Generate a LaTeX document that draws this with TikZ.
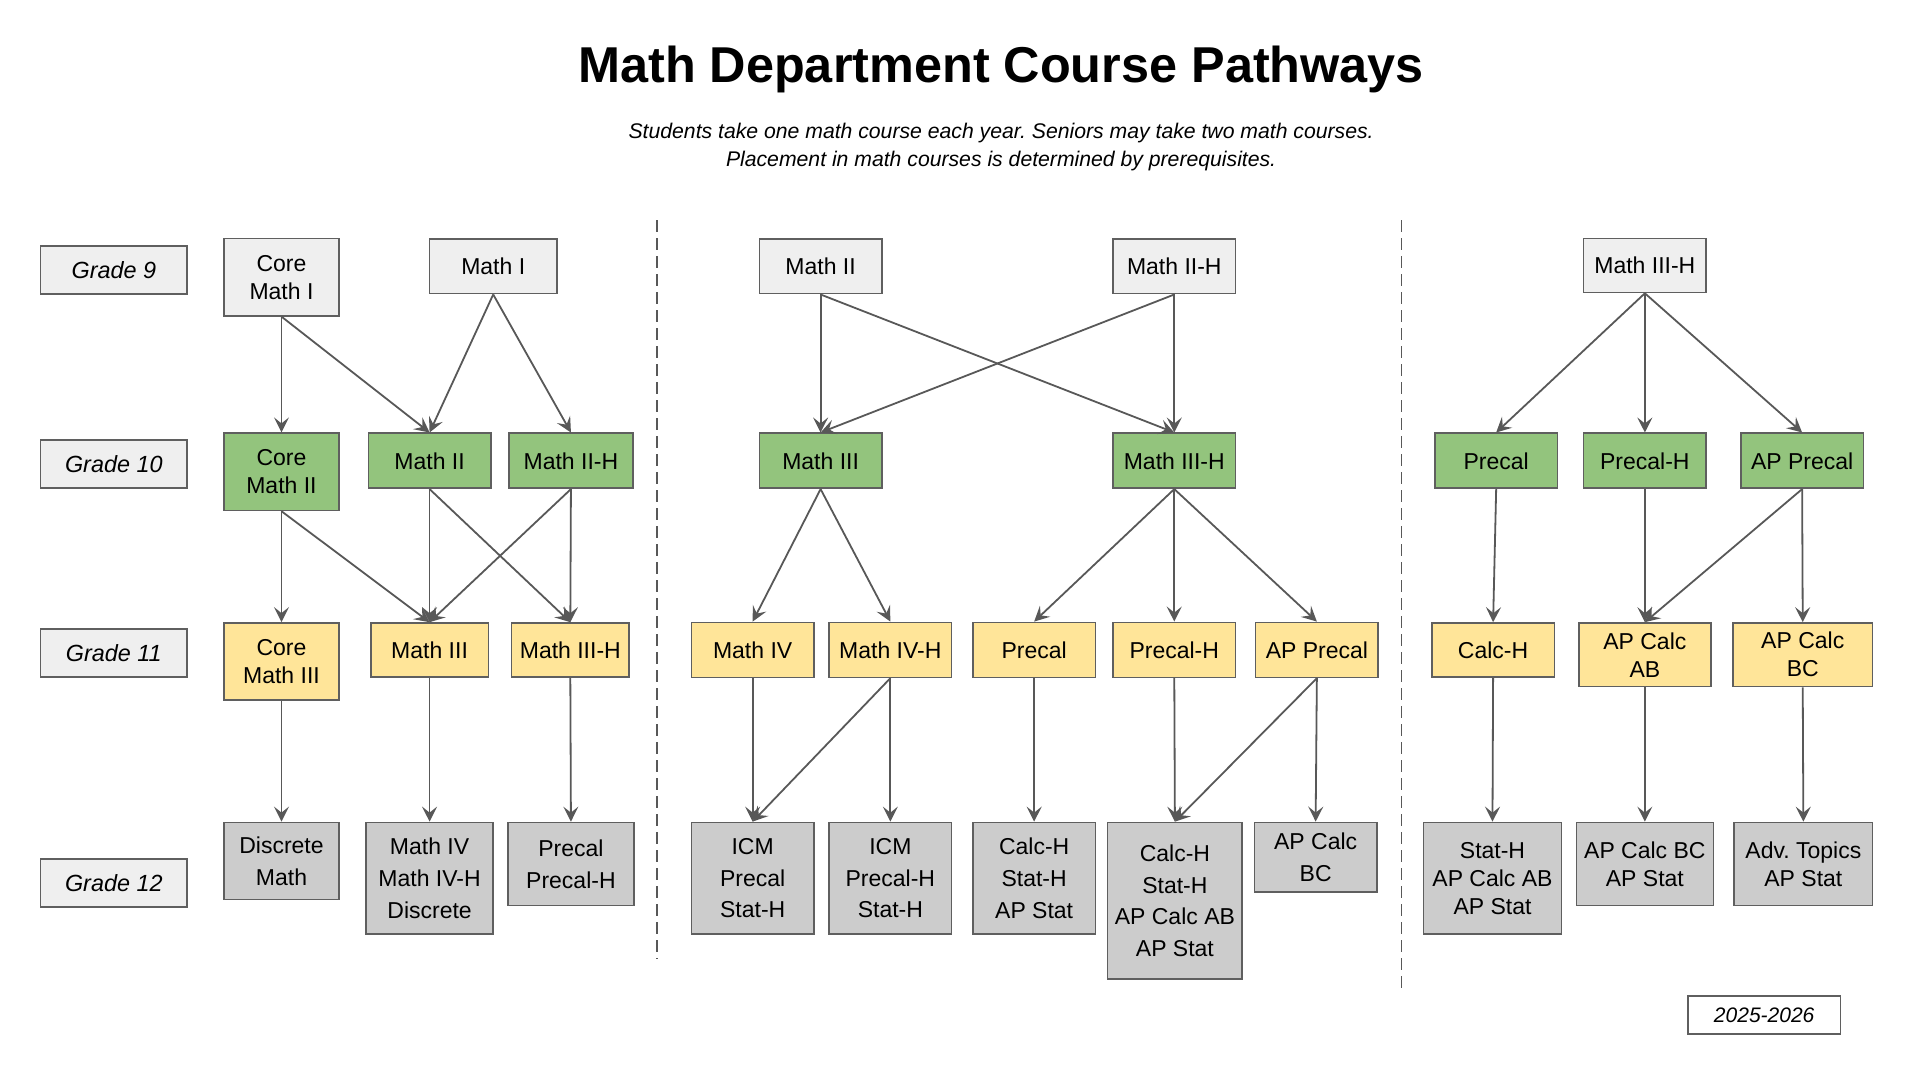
\documentclass[tikz,border=0pt]{standalone}
\usepackage{fontspec}
\setmainfont{Liberation Sans}
\frenchspacing
\usetikzlibrary{arrows.meta,positioning}
\definecolor{boxline}{RGB}{95,95,95}
\definecolor{linkgray}{RGB}{88,88,88}
\definecolor{palegray}{RGB}{239,239,239}
\definecolor{leafgreen}{RGB}{147,196,125}
\definecolor{paleyellow}{RGB}{255,229,153}
\definecolor{midgray}{RGB}{204,204,204}
\tikzset{
  course/.style={draw=boxline,line width=0.8pt,minimum width=61.2pt,minimum height=27.5pt,inner sep=1pt,align=center,font=\fontsize{11.5}{15.9}\selectfont},
  snug/.style={font=\fontsize{11.5}{14}\selectfont},
  grade/.style={course,fill=palegray,minimum width=73.4pt,minimum height=23.9pt,font=\fontsize{11.7}{14}\selectfont\itshape},
  yr9/.style={course,fill=palegray},
  yr10/.style={course,fill=leafgreen},
  yr11/.style={course,fill=paleyellow},
  yr12/.style={course,fill=midgray},
  link/.style={-{Stealth[length=7.5pt,width=7.5pt,inset=3pt]},draw=linkgray,line width=0.9pt},
  divider/.style={draw=linkgray,line width=0.8pt,dash pattern=on 6pt off 3pt}
}

\begin{document}
\begin{tikzpicture}[x=0.612pt,y=-0.612pt]
\useasboundingbox (0,0) rectangle (1568,882);
\node[font=\fontsize{25.2}{30}\selectfont\bfseries] (title) at (818,57) {Math Department Course Pathways};
\node[font=\fontsize{10.6}{14}\selectfont\itshape,align=center] (note) at (818,120.5) {Students take one math course each year. Seniors may take two math courses.\\Placement in math courses is determined by prerequisites.};

\node[grade] (g9) at (93,220.5) {Grade 9};
\node[grade] (g10) at (93,379) {Grade 10};
\node[grade] (g11) at (93,533.5) {Grade 11};
\node[grade] (g12) at (93,721.5) {Grade 12};

\node[yr9,snug,minimum width=57.5pt,minimum height=38.6pt] (aCore1) at (230,226.5) {Core\\Math I};
\node[yr9,minimum width=63.6pt] (aM1) at (403,217.5) {Math I};
\node[yr10,snug,minimum width=57.5pt,minimum height=38.6pt] (aCore2) at (230,385.5) {Core\\Math II};
\node[yr10] (aM2) at (351,376.5) {Math II};
\node[yr10,minimum width=61.8pt] (aM2H) at (466.5,376.5) {Math II-H};
\node[yr11,snug,minimum width=57.5pt,minimum height=38.6pt] (aCore3) at (230,540.5) {Core\\Math III};
\node[yr11,minimum width=58.8pt,minimum height=26.9pt] (aM3) at (351,531) {Math III};
\node[yr11,minimum width=58.8pt,minimum height=26.9pt] (aM3H) at (466,531) {Math III-H};
\node[yr12,minimum width=57.5pt,minimum height=38.6pt] (aDisc) at (230,703.5) {Discrete\\Math};
\node[yr12,minimum width=63.6pt,minimum height=55.7pt] (aM4) at (351,717.5) {Math IV\\Math IV-H\\Discrete};
\node[yr12,minimum width=63pt,minimum height=41.6pt] (aPre) at (466.5,706) {Precal\\Precal-H};

\node[yr9] (bM2) at (670.5,217.5) {Math II};
\node[yr9] (bM2H) at (959.5,217.5) {Math II-H};
\node[yr10] (bM3) at (670.5,376.5) {Math III};
\node[yr10] (bM3H) at (959.5,376.5) {Math III-H};
\node[yr11] (bM4) at (615,531) {Math IV};
\node[yr11] (bM4H) at (727.5,531) {Math IV-H};
\node[yr11] (bPre) at (845,531) {Precal};
\node[yr11] (bPreH) at (959.5,531) {Precal-H};
\node[yr11] (bAPPre) at (1076,531) {AP Precal};
\node[yr12,minimum height=55.7pt] (bICM) at (615,717.5) {ICM\\Precal\\Stat-H};
\node[yr12,minimum height=55.7pt] (bICMH) at (727.5,717.5) {ICM\\Precal-H\\Stat-H};
\node[yr12,minimum height=55.7pt] (bCalc) at (845,717.5) {Calc-H\\Stat-H\\AP Stat};
\node[yr12,minimum width=67.3pt,minimum height=78.3pt] (bCalcH) at (960,736) {Calc-H\\Stat-H\\AP Calc AB\\AP Stat};
\node[yr12,minimum height=34.9pt] (bBC) at (1075,700.5) {AP Calc\\BC};

\node[yr9,minimum height=26.9pt] (cM3H) at (1344,217) {Math III-H};
\node[yr10] (cPre) at (1222.5,376.5) {Precal};
\node[yr10] (cPreH) at (1344,376.5) {Precal-H};
\node[yr10] (cAPPre) at (1472.5,376.5) {AP Precal};
\node[yr11,minimum height=26.9pt] (cCalcH) at (1220,531) {Calc-H};
\node[yr11,snug,minimum width=66.1pt,minimum height=31.8pt] (cAB) at (1344,535) {AP Calc\\AB};
\node[yr11,snug,minimum width=69.8pt,minimum height=31.8pt] (cBC) at (1473,535) {AP Calc\\BC};
\node[yr12,snug,minimum width=69.2pt,minimum height=55.7pt] (cStat) at (1219.5,717.5) {Stat-H\\AP Calc AB\\AP Stat};
\node[yr12,snug,minimum width=68.5pt,minimum height=41.6pt] (cBCStat) at (1344,706) {AP Calc BC\\AP Stat};
\node[yr12,snug,minimum width=69.2pt,minimum height=41.6pt] (cAdv) at (1473.5,706) {Adv. Topics\\AP Stat};

\node[course,fill=white,minimum width=76.5pt,minimum height=19pt,font=\fontsize{10.5}{12}\selectfont\itshape] (year) at (1441.5,829.5) {2025-2026};

\draw[divider] (537,180) -- (537,783);
\draw[divider] (1145,180) -- (1145,808);

\draw[link] (aCore1.south) -- (aCore2.north);
\draw[link] (aCore1.south) -- (aM2.north);
\draw[link] (aM1.south) -- (aM2.north);
\draw[link] (aM1.south) -- (aM2H.north);
\draw[link] (aCore2.south) -- (aCore3.north);
\draw[link] (aCore2.south) -- (aM3.north);
\draw[link] (aM2.south) -- (aM3.north);
\draw[link] (aM2.south) -- (aM3H.north);
\draw[link] (aM2H.south) -- (aM3.north);
\draw[link] (aM2H.south) -- (aM3H.north);
\draw[link] (aCore3.south) -- (aDisc.north);
\draw[link] (aM3.south) -- (aM4.north);
\draw[link] (aM3H.south) -- (aPre.north);

\draw[link] (bM2.south) -- (bM3.north);
\draw[link] (bM2.south) -- (bM3H.north);
\draw[link] (bM2H.south) -- (bM3.north);
\draw[link] (bM2H.south) -- (bM3H.north);
\draw[link] (bM3.south) -- (bM4.north);
\draw[link] (bM3.south) -- (bM4H.north);
\draw[link] (bM3H.south) -- (bPre.north);
\draw[link] (bM3H.south) -- (bPreH.north);
\draw[link] (bM3H.south) -- (bAPPre.north);
\draw[link] (bM4.south) -- (bICM.north);
\draw[link] (bM4H.south) -- (bICM.north);
\draw[link] (bM4H.south) -- (bICMH.north);
\draw[link] (bPre.south) -- (bCalc.north);
\draw[link] (bPreH.south) -- (bCalcH.north);
\draw[link] (bAPPre.south) -- (bCalcH.north);
\draw[link] (bAPPre.south) -- (bBC.north);

\draw[link] (cM3H.south) -- (cPre.north);
\draw[link] (cM3H.south) -- (cPreH.north);
\draw[link] (cM3H.south) -- (cAPPre.north);
\draw[link] (cPre.south) -- (cCalcH.north);
\draw[link] (cPreH.south) -- (cAB.north);
\draw[link] (cAPPre.south) -- (cAB.north);
\draw[link] (cAPPre.south) -- (cBC.north);
\draw[link] (cCalcH.south) -- (cStat.north);
\draw[link] (cAB.south) -- (cBCStat.north);
\draw[link] (cBC.south) -- (cAdv.north);

\end{tikzpicture}
\end{document}
